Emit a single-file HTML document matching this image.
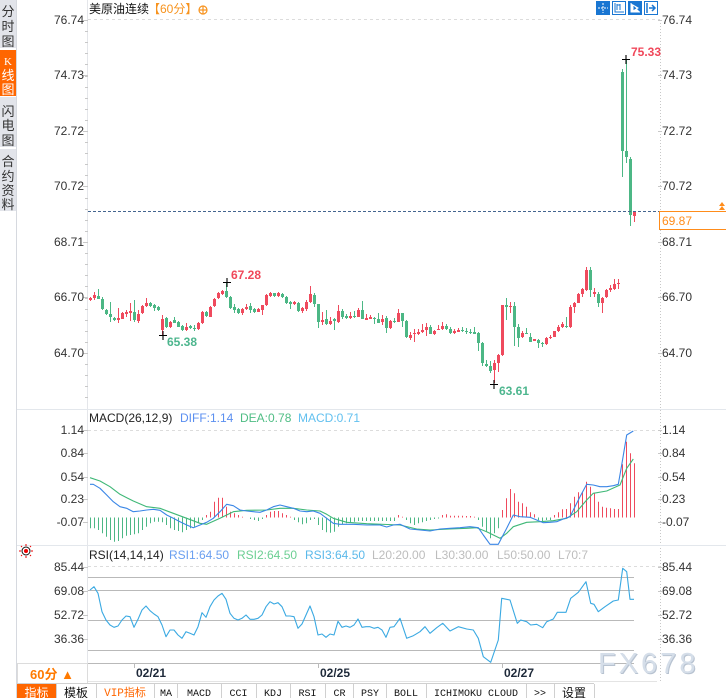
<!DOCTYPE html>
<html><head><meta charset="utf-8">
<style>
html,body{margin:0;padding:0;background:#fff;width:726px;height:698px;overflow:hidden}
svg{display:block}
text{font-family:"Liberation Sans","Noto Sans CJK SC",sans-serif;font-size:12px}
.mono{font-family:"Liberation Mono","Noto Sans CJK SC",monospace;font-size:10px}
.sb{font-size:13px}
</style></head><body>
<svg id="s" width="726" height="698" viewBox="0 0 726 698" xmlns="http://www.w3.org/2000/svg">
<!-- sidebar -->
<rect x="0" y="0" width="16" height="48" fill="#e2e4ea"/>
<rect x="0" y="50" width="16" height="46" fill="#ff6600"/>
<rect x="0" y="97" width="16" height="50" fill="#e2e4ea"/>
<rect x="0" y="149" width="16" height="62" fill="#e2e4ea"/>
<line x1="16.5" y1="0" x2="16.5" y2="698" stroke="#d6d9df"/>
<g text-anchor="middle" fill="#333">
<text x="8" y="16" class="sb">分</text><text x="8" y="31" class="sb">时</text><text x="8" y="46" class="sb">图</text>
<text x="8" y="65" fill="#fff" style="font-family:'Liberation Serif',serif;font-size:11px">K</text><text x="8" y="80" class="sb" fill="#fff">线</text><text x="8" y="94" class="sb" fill="#fff">图</text>
<text x="8" y="116" class="sb">闪</text><text x="8" y="130" class="sb">电</text><text x="8" y="145" class="sb">图</text>
<text x="8" y="166" class="sb">合</text><text x="8" y="181" class="sb">约</text><text x="8" y="195" class="sb">资</text><text x="8" y="209" class="sb">料</text>
</g>

<!-- axes -->
<line x1="87.5" y1="0" x2="87.5" y2="683" stroke="#e4e6ea"/>
<line x1="660.5" y1="20" x2="660.5" y2="681" stroke="#c8c8c8" stroke-dasharray="1,2"/>
<line x1="17" y1="409.5" x2="726" y2="409.5" stroke="#e3e7ec"/>
<line x1="17" y1="545.5" x2="726" y2="545.5" stroke="#e3e7ec"/>
<line x1="88" y1="19.5" x2="660" y2="19.5" stroke="#dcdcdc" stroke-dasharray="3,3"/>
<line x1="88" y1="430.5" x2="660" y2="430.5" stroke="#dcdcdc" stroke-dasharray="3,3"/>
<line x1="88" y1="566.5" x2="660" y2="566.5" stroke="#dcdcdc" stroke-dasharray="3,3"/>
<g id="ticks" stroke="#c8c8c8"></g>

<!-- left labels -->
<g text-anchor="end" fill="#333">
<text x="84" y="24">76.74</text><text x="84" y="79">74.73</text><text x="84" y="135">72.72</text><text x="84" y="190">70.72</text><text x="84" y="246">68.71</text><text x="84" y="301">66.70</text><text x="84" y="357">64.70</text>
<text x="84" y="434">1.14</text><text x="84" y="457">0.84</text><text x="84" y="481">0.54</text><text x="84" y="503">0.23</text><text x="84" y="526">-0.07</text>
<text x="84" y="571">85.44</text><text x="84" y="595">69.08</text><text x="84" y="619">52.72</text><text x="84" y="643">36.36</text>
</g>
<!-- right labels -->
<g fill="#333">
<text x="662" y="24">76.74</text><text x="662" y="79">74.73</text><text x="662" y="135">72.72</text><text x="662" y="190">70.72</text><text x="662" y="246">68.71</text><text x="662" y="301">66.70</text><text x="662" y="357">64.70</text>
<text x="662" y="434">1.14</text><text x="662" y="457">0.84</text><text x="662" y="481">0.54</text><text x="662" y="503">0.23</text><text x="662" y="526">-0.07</text>
<text x="662" y="571">85.44</text><text x="662" y="595">69.08</text><text x="662" y="619">52.72</text><text x="662" y="643">36.36</text>
</g>

<!-- header -->
<text x="89" y="13" fill="#111">美原油连续</text>
<text x="148" y="13" fill="#f7931e">【60分】</text>
<circle cx="203" cy="10" r="4" fill="none" stroke="#f7931e" stroke-width="1.2"/>
<line x1="199" y1="10" x2="207" y2="10" stroke="#f7931e" stroke-width="1.2"/>
<line x1="203" y1="6" x2="203" y2="14" stroke="#f7931e" stroke-width="1.2"/>

<!-- top right icons -->
<g>
<rect x="596.5" y="1.5" width="13" height="13" fill="#1976d2" stroke="#1976d2"/>
<line x1="603" y1="3" x2="603" y2="13" stroke="#fff" stroke-dasharray="2,1"/><line x1="598" y1="8" x2="608" y2="8" stroke="#fff" stroke-dasharray="2,1"/>
<rect x="612.5" y="1.5" width="13" height="13" fill="#fff" stroke="#1976d2"/>
<path d="M615 3V12H624 M617 4V10 M620 4V10 M617 5H620" stroke="#1976d2" fill="none"/>
<rect x="628.5" y="1.5" width="13" height="13" fill="#1976d2" stroke="#1976d2"/>
<path d="M631 3V12H640 M633 5L638 8L633 11Z" stroke="#fff" fill="#fff"/>
<rect x="644.5" y="1.5" width="13" height="13" fill="#fff" stroke="#1976d2"/>
<path d="M647 3V13 M649 8H655 M652 5L655 8L652 11" stroke="#1976d2" fill="none" stroke-width="1.5"/>
</g>

<g id="candles"></g>

<!-- current price line -->
<line x1="88" y1="211.5" x2="726" y2="211.5" stroke="#44658f" stroke-dasharray="3,2"/>
<rect x="659.5" y="211.5" width="67" height="18" fill="#fff" stroke="#ff8c1a"/>
<text x="662" y="225" fill="#ff8c1a">69.87</text>
<path d="M719 206L722 202L725 206Z M719 210L722 206L725 210Z" fill="#ff8c1a"/>

<!-- hi/lo markers -->
<g stroke="#000" stroke-width="1.1">
<path d="M622 59.5H630 M626 55V64"/>
<path d="M223 282.5H231 M227 278V287"/>
<path d="M159 335.5H167 M163 331V340"/>
<path d="M490 384.5H498 M494 380V389"/>
</g>
<g>
<text x="631" y="56" fill="#f0475a" style="font-weight:bold">75.33</text>
<text x="231" y="279" fill="#f0475a" style="font-weight:bold">67.28</text>
<text x="167" y="346" fill="#4db68e" style="font-weight:bold">65.38</text>
<text x="499" y="395" fill="#4db68e" style="font-weight:bold">63.61</text>
</g>

<!-- MACD -->
<text x="89" y="422" fill="#222">MACD(26,12,9)</text>
<text x="180" y="422" fill="#5b8ff0">DIFF:1.14</text>
<text x="240" y="422" fill="#4fbd84">DEA:0.78</text>
<text x="298" y="422" fill="#62c0ef">MACD:0.71</text>
<g id="macd"></g>

<!-- RSI -->
<g transform="translate(26,551)">
<circle r="4" fill="none" stroke="#111" stroke-width="1"/>
<circle r="2" fill="#e00"/>
<path d="M-7 0H-5 M5 0H7 M0 -7V-5 M0 5V7 M-5 -5L-4 -4 M4 4L5 5 M-5 5L-4 4 M4 -4L5 -5" stroke="#e00" stroke-width="1"/>
</g>
<text x="89" y="559" fill="#222">RSI(14,14,14)</text>
<text x="169" y="559" fill="#6a9ff0">RSI1:64.50</text>
<text x="237" y="559" fill="#6ccf93">RSI2:64.50</text>
<text x="305" y="559" fill="#5bb9ea">RSI3:64.50</text>
<text x="372" y="559" fill="#bdbdbd">L20:20.00</text>
<text x="435" y="559" fill="#bdbdbd">L30:30.00</text>
<text x="497" y="559" fill="#bdbdbd">L50:50.00</text>
<text x="558" y="559" fill="#bdbdbd">L70:7</text>
<g stroke="#b9b9b9">
<line x1="88" y1="577.5" x2="634" y2="577.5"/>
<line x1="88" y1="590.5" x2="634" y2="590.5"/>
<line x1="88" y1="620.5" x2="634" y2="620.5"/>
<line x1="88" y1="650.5" x2="634" y2="650.5"/>
<line x1="88" y1="663.5" x2="634" y2="663.5"/>
</g>
<g id="rsi"></g>

<!-- watermark -->
<text x="599" y="674" fill="#b8c3d1" style="font-size:29px;letter-spacing:3px">FX678</text>
<text x="598" y="673" fill="#d5dee9" style="font-size:29px;letter-spacing:3px">FX678</text>

<!-- date axis -->
<line x1="88" y1="681.5" x2="657" y2="681.5" stroke="#e4e4e4"/>
<g stroke="#bbb"><line x1="134.5" y1="663" x2="134.5" y2="668"/><line x1="318.5" y1="663" x2="318.5" y2="668"/><line x1="502.5" y1="663" x2="502.5" y2="668"/></g>
<g fill="#1f2a3a">
<text x="136" y="677" style="font-weight:bold">02/21</text>
<text x="320" y="677" style="font-weight:bold">02/25</text>
<text x="504" y="677" style="font-weight:bold">02/27</text>
</g>
<rect x="17.5" y="663.5" width="70" height="20" fill="#fff" stroke="#dcdcdc"/>
<text x="52" y="679" text-anchor="middle" fill="#ff7a00" style="font-size:13px;font-weight:bold">60分 ▲</text>

<!-- toolbar -->
<line x1="17" y1="683.5" x2="594" y2="683.5" stroke="#d0d0d0"/>
<rect x="17" y="684" width="39" height="14" fill="#ff6600"/>
<g stroke="#d0d0d0">
<line x1="56.5" y1="684" x2="56.5" y2="698"/><line x1="96.5" y1="684" x2="96.5" y2="698"/><line x1="154.5" y1="684" x2="154.5" y2="698"/><line x1="177.5" y1="684" x2="177.5" y2="698"/><line x1="221.5" y1="684" x2="221.5" y2="698"/><line x1="256.5" y1="684" x2="256.5" y2="698"/><line x1="290.5" y1="684" x2="290.5" y2="698"/><line x1="325.5" y1="684" x2="325.5" y2="698"/><line x1="353.5" y1="684" x2="353.5" y2="698"/><line x1="386.5" y1="684" x2="386.5" y2="698"/><line x1="426.5" y1="684" x2="426.5" y2="698"/><line x1="526.5" y1="684" x2="526.5" y2="698"/><line x1="554.5" y1="684" x2="554.5" y2="698"/><line x1="594.5" y1="684" x2="594.5" y2="698"/>
</g>
<g text-anchor="middle">
<text x="36.5" y="697" fill="#fff">指标</text>
<text x="76" y="697" fill="#111">模板</text>
<text x="125" y="696" fill="#ff6600" style="font-family:'Liberation Mono','Noto Sans CJK SC',monospace;font-size:11px">VIP指标</text>
<text x="166" y="696" class="mono" fill="#111">MA</text>
<text x="199" y="696" class="mono" fill="#111">MACD</text>
<text x="238.5" y="696" class="mono" fill="#111">CCI</text>
<text x="273" y="696" class="mono" fill="#111">KDJ</text>
<text x="307.5" y="696" class="mono" fill="#111">RSI</text>
<text x="339.5" y="696" class="mono" fill="#111">CR</text>
<text x="370" y="696" class="mono" fill="#111">PSY</text>
<text x="406" y="696" class="mono" fill="#111">BOLL</text>
<text x="476" y="696" class="mono" fill="#111">ICHIMOKU CLOUD</text>
<text x="540" y="696" class="mono" fill="#111">&gt;&gt;</text>
<text x="574" y="697" fill="#111">设置</text>
</g>
</svg>
<script>
(function(){
var NS="http://www.w3.org/2000/svg";
var R="#ef4a5d",G="#4cb785";
function el(p,tag,a){var e=document.createElementNS(NS,tag);for(var k in a)e.setAttribute(k,a[k]);p.appendChild(e);return e;}
var tk=document.getElementById("ticks");
var maj=[19.5,75,130.5,186,241.5,297,352.5];
for(var y=20;y<400;y+=11.1){el(tk,"line",{x1:85,y1:Math.round(y)+.5,x2:88,y2:Math.round(y)+.5});}
maj.forEach(function(y){el(tk,"line",{x1:83,y1:Math.round(y)+.5,x2:88,y2:Math.round(y)+.5});el(tk,"line",{x1:658,y1:Math.round(y)+.5,x2:662,y2:Math.round(y)+.5});});
[430,453,476.5,499,521.5,566.5,590.5,615,639].forEach(function(y){el(tk,"line",{x1:83,y1:Math.round(y)+.5,x2:88,y2:Math.round(y)+.5});el(tk,"line",{x1:658,y1:Math.round(y)+.5,x2:662,y2:Math.round(y)+.5});});
var C=[
['r',298,300,297,301],['r',295,298,292,300],['g',296,299,289,299],['g',299,309,297,310],['g',310,314,309,315],
['g',314,317,302,322],['g',318,320,317,321],['r',318,320,308,323],['r',313,319,312,319],['r',312,314,310,317],
['r',311,313,303,321],['g',312,320,300,322],['r',314,321,310,323],['r',306,313,305,314],['r',303,306,298,307],
['g',303,306,302,307],['g',305,308,304,311],['g',307,310,306,311],['r',319,330,315,335],['g',318,327,317,328],
['r',322,327,321,328],['g',320,323,317,323],['g',322,327,321,327],['g',326,330,325,331],['r',327,330,323,331],
['g',326,328,325,329],['g',328,329,325,331],['r',323,329,322,330],['r',312,323,311,324],['g',312,316,311,317],
['r',307,317,306,317],['r',299,306,298,307],['r',293,298,292,299],['r',291,294,290,295],['g',291,297,282,298],
['g',297,308,296,309],['g',307,310,304,313],['g',309,313,308,314],['r',309,313,308,315],['r',307,309,304,310],
['g',306,310,303,313],['g',309,312,308,313],['r',309,312,308,312],['r',305,310,305,315],['r',295,305,294,306],
['r',293,296,292,297],['g',293,296,293,297],['r',293,296,292,297],['g',294,297,293,298],['g',297,303,296,304],
['g',302,304,301,309],['r',302,304,301,305],['g',303,311,302,312],['r',308,311,307,313],['r',302,309,300,311],
['r',294,302,286,303],['g',295,304,293,307],['g',304,322,304,328],['r',320,322,312,325],['g',319,324,310,325],
['r',321,324,317,325],['g',319,321,318,330],['r',311,322,305,323],['g',311,317,309,319],['g',316,318,314,319],
['r',316,318,312,319],['g',316,317,311,318],['r',310,317,308,317],['g',310,319,301,319],['r',318,320,314,320],
['r',317,319,315,319],['g',318,319,317,324],['g',319,323,313,323],['r',319,322,315,325],['g',318,328,316,333],
['r',321,328,320,329],['g',321,322,318,323],['r',313,322,309,322],['g',313,321,313,327],['g',321,337,320,338],
['r',335,338,332,340],['r',333,334,329,342],['r',332,334,329,335],['r',330,332,324,333],['r',327,330,323,336],
['g',327,334,325,334],['r',331,334,330,335],['r',329,330,325,330],['r',326,329,322,330],['g',326,329,324,330],
['g',329,333,327,334],['r',331,333,329,334],['r',330,332,328,332],['g',330,331,327,332],['g',331,332,328,334],
['g',332,333,329,334],['g',332,334,327,334],['g',333,343,332,351],['g',343,363,342,366],['g',364,366,360,367],
['g',366,371,361,373],['r',363,370,360,383],['r',355,363,354,372],['r',305,355,305,356],['g',305,307,298,320],
['r',306,307,302,313],['g',306,327,302,346],['g',327,338,324,347],['r',333,337,331,338],['g',333,334,328,334],
['g',337,342,333,342],['r',339,341,339,341],['g',340,343,339,348],['g',343,344,342,347],['r',338,344,337,345],
['r',337,338,335,339],['r',331,337,331,337],['r',327,331,325,332],['r',324,327,322,328],['g',326,327,317,328],
['r',307,327,305,328],['r',303,307,302,313],['r',294,303,293,303],['r',289,294,288,297],['r',270,290,267,291],
['g',270,290,267,297],['r',292,294,288,297],['g',294,303,292,307],['r',298,303,297,313],['r',290,297,289,298],
['r',288,290,285,292],['r',284,289,279,290],['r',283,284,279,289],['g',72,151,69,177],['g',151,157,59,163],
['g',159,215,157,226],['r',212,216,211,222]
];
var cg=document.getElementById("candles");
C.forEach(function(c,i){
  var x=90+4*i,col=c[0]=='r'?R:G;
  el(cg,"line",{x1:x+.5,y1:c[3],x2:x+.5,y2:c[4],stroke:col,"stroke-width":1});
  el(cg,"rect",{x:x-1,y:c[1],width:3,height:Math.max(1,c[2]-c[1]),fill:col});
});
var H=[528.3,528.3,530,533.3,536.7,540,541.7,541,538.3,535.7,535,534.3,533.3,530,526.7,523.3,521.7,521.7,522.3,525,
528.3,530,531,532.3,530,528.3,526.7,523.3,520,515,511.7,501.7,497.7,497.7,506.7,511.7,513.3,515,516.7,517.5,
519,520,521,519,515,511.7,511,511,513.3,515,516.7,520,522.3,524.3,523.3,520,519,525,530,532.3,
532.7,531.7,526.7,524.3,523.3,522.3,521.7,521,521,521,521,521,521,521,521,521,521,515,516.7,520,
523.3,525,523.3,522.3,521,520,519,518.5,515,514.3,515.7,515.7,515.7,515.7,516,516,516.7,520,526.7,531.7,
538.3,533.3,528.3,510,498.3,489,493.3,501.7,503.3,506.7,512.3,514.3,520,521,520,520,515,512.3,509.3,509,
503.3,496.7,492.3,491.7,481.7,486.7,493.3,501.7,506.7,507.7,508.3,509,509,464.3,441.7,453.3,463.3];
var mg=document.getElementById("macd"),B=517.5;
H.forEach(function(v,i){
  var x=90+4*i+.5;
  if(Math.abs(v-B)<0.6)return;
  el(mg,"line",{x1:x,y1:B,x2:x,y2:v,stroke:v<B?R:G,"stroke-width":1});
});
function pl(g,pts,col){el(g,"polyline",{points:pts.map(function(p){return p[0]+","+p[1];}).join(" "),fill:"none",stroke:col,"stroke-width":1.1,"stroke-linejoin":"round"});}
var DEA=[[90,477.7],[100,481],[110,486.7],[120,494.3],[133.3,501],[146.7,506.7],[160,508.3],[173.3,513.3],[186.7,518.3],[200,523.3],[206.7,524.3],[220,518.3],[233.3,511.7],[246.7,510.3],[266.7,510],[280,508.3],[293.3,508.3],[306.7,510],[320,511],[326.7,514.3],[333.3,518.3],[346.7,522.3],[366.7,523.7],[400,525],[416.7,529],[430,530],[450,529],[466.7,528.3],[476.7,527.7],[486.7,531.7],[500,538.3],[506.7,533.3],[513.3,526.7],[526.7,522.3],[540,521.7],[553.3,520.7],[566.7,518.3],[576.7,511.7],[586.7,500],[593.3,493.3],[606.7,491],[620,485],[626.7,468.3],[633.3,459]];
var DIFF=[[90,484.3],[93.3,484.3],[100,488.3],[106.7,495],[113.3,501.7],[120,506.7],[126.7,508.3],[133.3,511.7],[140,511],[146.7,510],[153.3,509.3],[160,510.3],[166.7,515],[173.3,518.3],[180,521.7],[186.7,525],[193.3,527.7],[200,525],[206.7,522.3],[213.3,518.3],[220,511.7],[226.7,504.3],[233.3,505.7],[240,510],[246.7,511],[253.3,511.7],[260,512.3],[266.7,510],[273.3,506.7],[280,505],[286.7,506.7],[293.3,508.3],[300,511],[306.7,511.7],[313.3,511],[320,513.3],[326.7,518.3],[333.3,523.3],[340,524.3],[353.3,524.3],[366.7,525],[380,525],[386.7,527],[393.3,525],[400,524.3],[410,529],[420,530],[430,531],[440,529],[450,528.3],[460,527.7],[470,526.7],[478.3,527.7],[483.3,535],[490,544.3],[498.3,544.3],[501.7,537.7],[506.7,528.3],[513.3,515],[520,516.7],[530,517.3],[536.7,520],[543.3,522.7],[550,522.3],[556.7,521.7],[563.3,519],[570,516.7],[580,496.7],[586.7,484.3],[593.3,485],[600,486.7],[606.7,486.7],[613.3,485.7],[618.3,484.3],[621.7,465],[626.7,435],[633.3,431]];
pl(mg,DEA,"#3fb877");
pl(mg,DIFF,"#3a86e6");
var RS=[[90,590],[94,586.7],[98,593.3],[102,611.7],[106,620],[110,625],[114,627.3],[118,626],[122,620],[126,616],[130,616.7],[134,627.3],[138,619.3],[142,610],[146,606],[150,610.7],[154,614],[158,616.7],[162,625],[166,636.7],[170,630],[174,630],[178,635],[182,638.3],[186,631.7],[190,633.3],[194,635],[198,626.7],[202,612.7],[206,617.3],[210,606.7],[214,600],[218,596],[222,593.3],[226,599.3],[230,613.3],[234,618.3],[238,620],[242,618.3],[246,615],[250,619.3],[254,619.3],[258,618.3],[262,615],[266,606.7],[270,601.7],[274,604],[278,602.7],[282,606.7],[286,616],[290,616],[294,616.7],[298,628.3],[302,624],[306,615],[310,606],[314,616.7],[318,635],[322,634],[326,637.3],[330,634],[334,635],[338,621.3],[342,627.3],[346,626],[350,627.3],[354,625],[358,619],[362,627.3],[366,626.7],[370,626.7],[374,628.3],[378,627.3],[382,630],[386,637.3],[390,627.3],[394,626.7],[400,618.3],[406.7,638.3],[413.3,635.7],[420,631.7],[425,626.7],[430,633.3],[436.7,627.7],[442.7,623.3],[450,631],[458.3,626.7],[466.7,629],[473.3,630],[478.3,638.3],[483.3,656.7],[490.7,662.3],[498.3,640],[501.7,598.3],[510,600],[517.3,623.3],[520.7,620],[526.7,621.7],[530.7,625],[536.7,624.3],[542.7,627.7],[546.7,621.7],[553.3,619],[557.3,612.3],[566,612.3],[570.7,598.3],[578.3,592.3],[586,581.7],[590.7,603.3],[594,604.3],[598.3,611.7],[605,606.7],[613.3,601],[618.3,600],[622.7,568.3],[626.7,571.7],[630,599.3],[634,599.3]];
pl(document.getElementById("rsi"),RS,"#3aa9e2");
})();
</script>
</body></html>
